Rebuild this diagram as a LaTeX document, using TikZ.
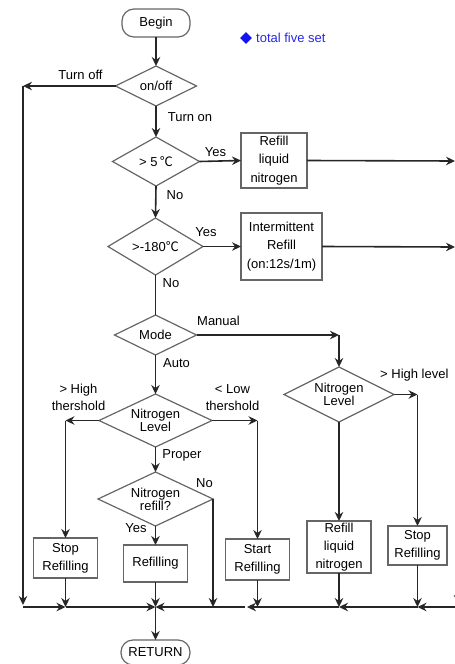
\documentclass[tikz,border=0pt]{standalone}
\usepackage{fontspec}
\setmainfont{Liberation Sans}
\newfontfamily\cjk{Noto Sans CJK SC}
\usetikzlibrary{arrows.meta,shapes.geometric}
\begin{document}
\begin{tikzpicture}[x=1pt,y=-1pt,
  every node/.style={font=\fontsize{13}{14}\selectfont, text=black},
  box/.style={draw=black!60, line width=1.2pt, inner sep=0pt, outer sep=0pt, align=center, font=\fontsize{13}{18.3}\selectfont},
  term/.style={draw=black!60, line width=1.2pt, rounded corners=12pt, inner sep=0pt, outer sep=0pt},
  dia/.style={diamond, draw=black!60, line width=1.2pt, inner sep=0pt, outer sep=0pt},
  dtext/.style={inner sep=0pt, align=center, font=\fontsize{13}{13}\selectfont},
  lbl/.style={inner sep=0pt, align=center, font=\fontsize{13}{17}\selectfont},
  conn/.style={draw=black!85, line width=1.6pt, -{Stealth[length=9pt,width=8.5pt,inset=3pt]}},
  plain/.style={draw=black!85, line width=1.6pt}
]
\useasboundingbox (0,0) rectangle (455,664);

% legend
\node[diamond, fill={rgb,255:red,20;green,20;blue,240}, minimum width=12pt, minimum height=12pt, inner sep=0pt] (bul) at (246,38) {};
\node[anchor=west, inner sep=0pt, text={rgb,255:red,40;green,40;blue,230}] (leg) at (256,38) {total five set};

% main column
\node[term, minimum width=68pt, minimum height=28pt] (begin) at (156,23) {};
\node[dtext] (begint) at (begin) {Begin};
\node[dia, minimum width=81pt, minimum height=40pt] (onoff) at (156,86) {};
\node[dtext] (onofft) at (onoff) {on/off};
\node[dia, minimum width=87pt, minimum height=49pt] (t5) at (156,161.5) {};
\node[dtext] (t5t) at (t5) {> 5\,{\cjk ℃}};
\node[dia, minimum width=95pt, minimum height=57pt] (t180) at (155.5,246.5) {};
\node[dtext] (t180t) at (t180) {>-180{\cjk ℃}};
\node[dia, minimum width=82pt, minimum height=40pt] (mode) at (155.5,335) {};
\node[dtext] (modet) at (mode) {Mode};
\node[dia, minimum width=113pt, minimum height=53pt] (nl) at (155.5,420.5) {};
\node[dtext] (nlt) at (nl) {Nitrogen\\Level};
\node[dia, minimum width=115pt, minimum height=54pt] (nr) at (155.5,499) {};
\node[dtext] (nrt) at (nr) {Nitrogen\\refill?};
\node[box, minimum width=64pt, minimum height=37pt] (refil) at (155.5,563.5) {Refilling};
\node[term, minimum width=69pt, minimum height=25pt] (ret) at (155.5,652.5) {};
\node[dtext] (rett) at (ret) {RETURN};

% right boxes
\node[box, minimum width=66pt, minimum height=55pt] (r1) at (274,160.5) {Refill\\liquid\\nitrogen};
\node[box, minimum width=81pt, minimum height=67pt] (r2) at (281.5,246.5) {Intermittent\\Refill\\(on:12s/1m)};

% auto branch boxes
\node[box, minimum width=64pt, minimum height=40pt] (stop1) at (65.5,558) {Stop\\Refilling};
\node[box, minimum width=64pt, minimum height=41pt] (start) at (257.5,559.5) {Start\\Refilling};

% manual branch
\node[dia, minimum width=110pt, minimum height=55pt] (ml) at (339,394.5) {};
\node[dtext] (mlt) at (ml) {Nitrogen\\Level};
\node[box, minimum width=64pt, minimum height=52pt] (r3) at (339,547) {Refill\\liquid\\nitrogen};
\node[box, minimum width=59pt, minimum height=39pt] (stop2) at (417.5,545.5) {Stop\\Refilling};

% labels
\node[lbl] (lturnoff) at (80.5,75) {Turn off};
\node[lbl] (lturnon) at (190,117) {Turn on};
\node[lbl] (lyes1) at (215.5,152) {Yes};
\node[lbl] (lno1) at (175,195.5) {No};
\node[lbl] (lyes2) at (206,232) {Yes};
\node[lbl] (lno2) at (171,283) {No};
\node[lbl] (lman) at (218.5,321) {Manual};
\node[lbl] (lauto) at (176.5,363) {Auto};
\node[lbl] (lhigh) at (78.5,397.5) {> High\\thershold};
\node[lbl] (llow) at (232.5,397.5) {< Low\\thershold};
\node[lbl, anchor=west] (lhl) at (380,375) {> High level};
\node[lbl] (lprop) at (182,455) {Proper};
\node[lbl] (lno3) at (204.5,483.5) {No};
\node[lbl] (lyes3) at (136,528.5) {Yes};

% coordinates
\coordinate (offc) at (23,86);
\coordinate (offb) at (23,605);
\coordinate (bl) at (23,607);
\coordinate (b1) at (65.5,607);
\coordinate (bm) at (155.5,607);
\coordinate (bn) at (213,607);
\coordinate (bg) at (245,607);
\coordinate (bgt) at (247,607);
\coordinate (bs) at (257.5,607);
\coordinate (br) at (339,607);
\coordinate (bt) at (417.5,607);
\coordinate (be) at (458,607);
\coordinate (r1e) at (455,161);
\coordinate (r2e) at (455,247);
\coordinate (manc) at (339,335);
\coordinate (hc) at (65.5,420.5);
\coordinate (lc) at (257.5,420.5);
\coordinate (hlc) at (417.5,394.5);
\coordinate (vt) at (458,585);
\coordinate (vb) at (458,604);

% connectors main
\draw[conn] (begin.south) -- (onoff.north);
\draw[conn] (onoff.west) -- (offc);
\draw[conn] (offc) -- (offb);
\draw[conn] (onoff.south) -- (t5.north);
\draw[conn] (t5.east) -- (r1.west);
\draw[conn] (r1.east) -- (r1e);
\draw[conn] (t5.south) -- (t180.north);
\draw[conn] (t180.east) -- (r2.west);
\draw[conn] (r2.east) -- (r2e);
\draw[plain] (t180.south) -- (mode.north);
\draw[conn] (mode.east) -- (manc);
\draw[conn] (manc) -- (ml.north);
\draw[conn] (mode.south) -- (nl.north);
\draw[conn] (nl.west) -- (hc);
\draw[conn] (hc) -- (stop1.north);
\draw[conn] (nl.east) -- (lc);
\draw[conn] (lc) -- (start.north);
\draw[conn] (nl.south) -- (nr.north);
\draw[conn] (nr.south) -- (refil.north);
\draw[conn] (nr.east) -- (bn);
\draw[conn] (ml.east) -- (hlc);
\draw[conn] (hlc) -- (stop2.north);
\draw[conn] (ml.south) -- (r3.north);

% bottom collector
\draw[conn] (stop1.south) -- (b1);
\draw[conn] (refil.south) -- (bm);
\draw[conn] (start.south) -- (bs);
\draw[conn] (r3.south) -- (br);
\draw[conn] (stop2.south) -- (bt);
\draw[conn] (vt) -- (vb);
\draw[conn] (bl) -- (b1);
\draw[conn] (b1) -- (bm);
\draw[conn] (bg) -- (bm);
\draw[conn] (be) -- (bt);
\draw[conn] (bt) -- (br);
\draw[conn] (br) -- (bgt);
\draw[conn] (bm) -- (ret.north);
\end{tikzpicture}
\end{document}
